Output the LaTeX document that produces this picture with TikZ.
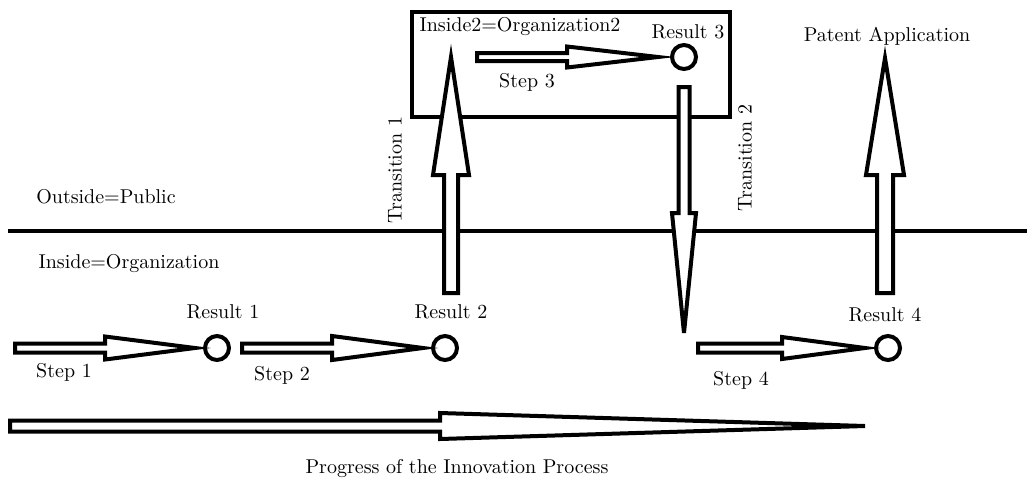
\documentclass[tikz,border=0pt]{standalone}
\usetikzlibrary{calc}
\tikzset{
  lbl/.style={inner sep=0pt},
  res/.style={circle, draw, line width=2pt, minimum size=12pt, inner sep=0pt},
  hollow/.style={line width=2pt, fill=white},
}
% tail, tip, head length, shaft half width, head half width
\newcommand{\hollowArrow}[5]{
	\coordinate (hb) at ($(#2)!#3!(#1)$);
	\draw[hollow]($(#1)!#4!90:(#2)$)--($(hb)!#4!-90:(#1)$)--($(hb)!#5!-90:(#1)$)--(#2)
	--($(hb)!#5!90:(#1)$)--($(hb)!#4!90:(#1)$)--($(#1)!#4!-90:(#2)$)--cycle
}

\begin{document}
\begin{tikzpicture}[x=0.5pt, y=-0.5pt]
    \useasboundingbox (0,0) rectangle (1027,483);
    % border between public and organization
    \draw[line width=2pt](8,231)--(1027,231);
    \node[lbl] (out) at (106,197) {Outside=Public};
    \node[lbl] (in) at (129,264) {Inside=Organization};
    % second organization
    \draw[line width=2pt](412,12) rectangle (730,117);
    \node[lbl] (in2) at (520,27) {Inside2=Organization2};
    % results
    \node[res] (r1) at (217,348) {};
    \node[res] (r2) at (445,348) {};
    \node[res] (r3) at (684,57) {};
    \node[res] (r4) at (888,348) {};
    \node[lbl] (r1l) at (223,312) {Result 1};
    \node[lbl] (r2l) at (451,312) {Result 2};
    \node[lbl] (r3l) at (688,32) {Result 3};
    \node[lbl] (r4l) at (885,315) {Result 4};
    % steps
    \coordinate (s1) at (15,348);
    \coordinate (s1tip) at ([xshift=-4pt]r1.west);
    \hollowArrow{s1}{s1tip}{45pt}{2.25pt}{5.75pt};
    \coordinate (s2) at (242,348);
    \coordinate (s2tip) at ([xshift=-4pt]r2.west);
    \hollowArrow{s2}{s2tip}{45.5pt}{2.25pt}{6pt};
    \coordinate (s3) at (477,57);
    \coordinate (s3tip) at ([xshift=-6pt]r3.west);
    \hollowArrow{s3}{s3tip}{45.5pt}{2pt}{5.25pt};
    \coordinate (s4) at (698,348);
    \coordinate (s4tip) at ([xshift=-4.5pt]r4.west);
    \hollowArrow{s4}{s4tip}{41.5pt}{2.25pt}{5.5pt};
    \node[lbl] (s1l) at (64,372) {Step 1};
    \node[lbl] (s2l) at (282,375) {Step 2};
    \node[lbl] (s3l) at (527,82) {Step 3};
    \node[lbl] (s4l) at (741,380) {Step 4};
    % transitions
    \coordinate (t1) at (451,293);
    \coordinate (t1tip) at (451,57);
    \hollowArrow{t1}{t1tip}{59pt}{3.5pt}{9pt};
    \coordinate (t2) at ([yshift=-8pt]r3.south);
    \coordinate (t2tip) at (684,333);
    \hollowArrow{t2}{t2tip}{60pt}{2.75pt}{6pt};
    \node[lbl, rotate=90] (t1l) at (395,170) {Transition 1};
    \node[lbl, rotate=90] (t2l) at (745,158) {Transition 2};
    % patent
    \node[lbl] (pa) at (887,36) {Patent Application};
    \coordinate (p) at (885,293);
    \coordinate (ptip) at (885,58);
    \hollowArrow{p}{ptip}{58.5pt}{4pt}{9.5pt};
    % progress
    \coordinate (g) at (10,426);
    \coordinate (gtip) at (865,426);
    \hollowArrow{g}{gtip}{212.5pt}{2.75pt}{6.5pt};
    \node[lbl] (gl) at (457,468) {Progress of the Innovation Process};
\end{tikzpicture}
\end{document}
